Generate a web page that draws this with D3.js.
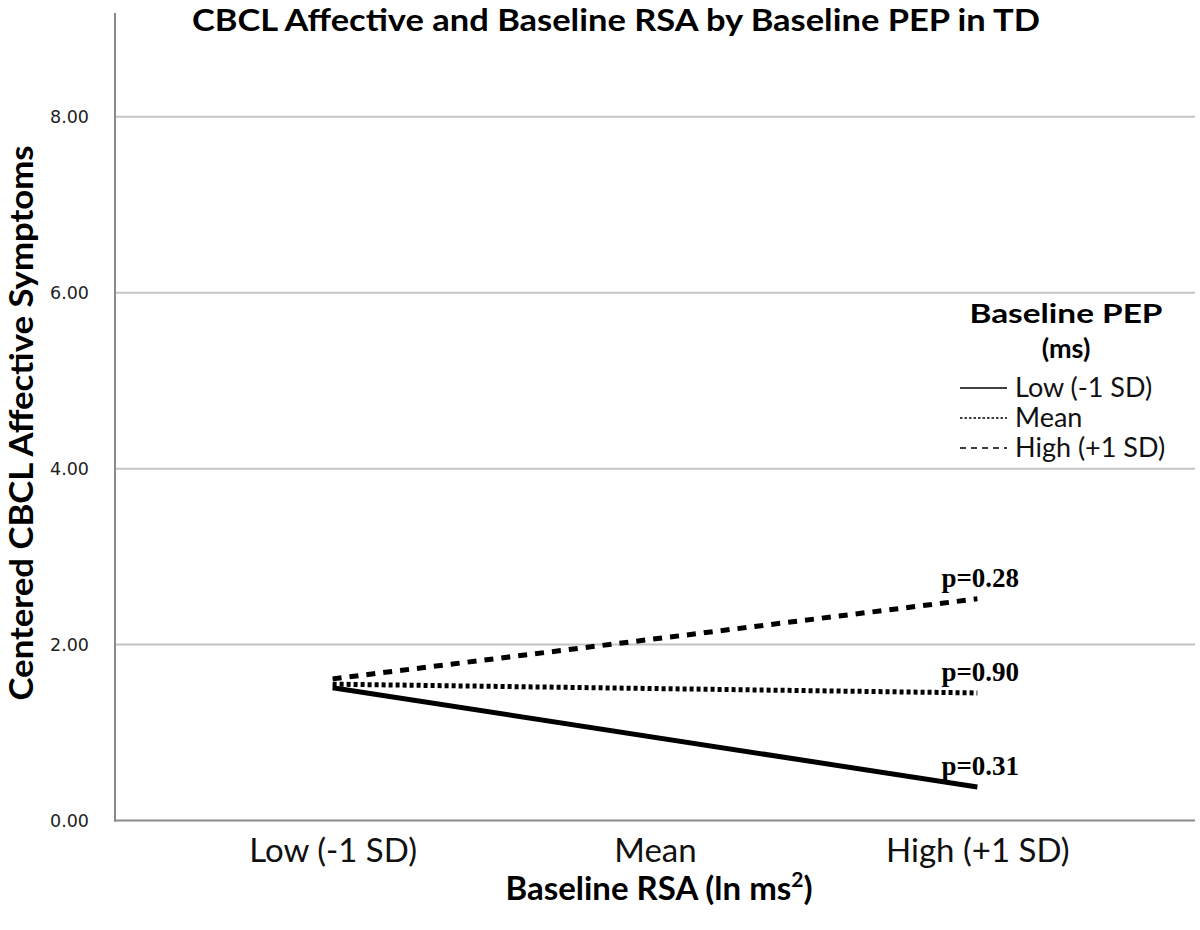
<!DOCTYPE html>
<html><head><meta charset="utf-8">
<script src="https://cdn.jsdelivr.net/npm/d3@7"></script>
<style>body{margin:0;background:#fff}svg{display:block}</style>
</head><body>
<svg id="chart" width="1200" height="930"></svg>
<script>
// ---- data ----
const categories = ["Low (-1 SD)", "Mean", "High (+1 SD)"];
const lineCategories = ["Low (-1 SD)", "High (+1 SD)"];
const seriesNames = ["Low (-1 SD)", "Mean", "High (+1 SD)"];
const lowPEP  = [1.51, 0.38];
const meanPEP = [1.55, 1.45];
const highPEP = [1.61, 2.52];
const pLabels = ["p=0.31", "p=0.90", "p=0.28"];
const yTicks = [0, 2, 4, 6, 8];
const yMax = 9.18;

const svg = d3.select("#chart");
const L = 115, R = 1195, T = 13, B = 820.5;

const x = d3.scalePoint().domain(categories).range([L, R]).padding(0.675);
const y = d3.scaleLinear().domain([0, yMax]).range([B, T]);

// gridlines
svg.append("g").selectAll("line").data(yTicks.filter(d => d > 0)).join("line")
  .attr("x1", L).attr("x2", R).attr("y1", d => y(d)).attr("y2", d => y(d))
  .attr("stroke", "#c4c4c4").attr("stroke-width", 2);

// axes
const yAxis = svg.append("g").attr("transform", `translate(${L},0)`)
  .call(d3.axisLeft(y).tickValues(yTicks).tickFormat(d3.format(".2f")).tickSize(0).tickPadding(26));
yAxis.select(".domain").remove();
yAxis.selectAll("text").attr("font-family", "DejaVu Sans").attr("font-size", 17.5).attr("fill", "#222");

const xAxis = svg.append("g").attr("transform", `translate(0,${B})`)
  .call(d3.axisBottom(x).tickSize(0).tickPadding(18));
xAxis.select(".domain").remove();
xAxis.selectAll("text").attr("font-family", "Lato").attr("font-size", 33).attr("fill", "#111");

svg.append("line").attr("x1", L).attr("x2", L).attr("y1", T).attr("y2", B + 1)
  .attr("stroke", "#8a8a8a").attr("stroke-width", 2);
svg.append("line").attr("x1", L - 1).attr("x2", R).attr("y1", B).attr("y2", B)
  .attr("stroke", "#8a8a8a").attr("stroke-width", 2);

// series
const series = [
  {name: seriesNames[0], vals: lowPEP,  dash: null,  legDash: null,  p: pLabels[0]},
  {name: seriesNames[1], vals: meanPEP, dash: "4,3", legDash: "2.5,2", p: pLabels[1]},
  {name: seriesNames[2], vals: highPEP, dash: "9,8", legDash: "6,5", p: pLabels[2]}
];
const line = d3.line().x((d, i) => x(lineCategories[i])).y(d => y(d));
svg.append("g").selectAll("path").data(series).join("path")
  .attr("d", d => line(d.vals)).attr("fill", "none").attr("stroke", "#000")
  .attr("stroke-width", 5).attr("stroke-dasharray", d => d.dash);

svg.append("g").selectAll("text").data(series).join("text")
  .attr("x", x(lineCategories[1]) - 36).attr("y", d => y(d.vals[1]) - 12)
  .attr("font-family", "Liberation Serif").attr("font-weight", "bold").attr("font-size", 27)
  .text(d => d.p);

// legend
const lg = svg.append("g");
lg.append("text").attr("x", 1066).attr("y", 323).attr("text-anchor", "middle")
  .attr("font-family", "Lato").attr("font-weight", "bold").attr("font-size", 27)
  .attr("textLength", 193).attr("lengthAdjust", "spacingAndGlyphs").text("Baseline PEP");
lg.append("text").attr("x", 1066).attr("y", 358).attr("text-anchor", "middle")
  .attr("font-family", "Lato").attr("font-weight", "bold").attr("font-size", 27).text("(ms)");
const items = lg.selectAll("g.item").data(series).join("g").attr("class", "item")
  .attr("transform", (d, i) => `translate(0,${397 + i * 30})`);
items.append("line").attr("x1", 960).attr("x2", 1007).attr("y1", -9).attr("y2", -9)
  .attr("stroke", "#000").attr("stroke-width", 1.5).attr("stroke-dasharray", d => d.legDash);
items.append("text").attr("x", 1015).attr("y", 0)
  .attr("font-family", "Lato").attr("font-size", 27).attr("fill", "#111").text(d => d.name);

// titles
svg.append("text").attr("x", 616).attr("y", 31).attr("text-anchor", "middle")
  .attr("font-family", "Lato").attr("font-weight", "bold").attr("font-size", 30)
  .attr("textLength", 848).attr("lengthAdjust", "spacingAndGlyphs")
  .text("CBCL Affective and Baseline RSA by Baseline PEP in TD");
svg.append("text").attr("transform", "translate(33,423) rotate(-90)").attr("text-anchor", "middle")
  .attr("font-family", "Lato").attr("font-weight", "bold").attr("font-size", 32)
  .attr("textLength", 555).attr("lengthAdjust", "spacingAndGlyphs")
  .text("Centered CBCL Affective Symptoms");
const xt = svg.append("text").attr("x", 659).attr("y", 900).attr("text-anchor", "middle")
  .attr("font-family", "Lato").attr("font-weight", "bold").attr("font-size", 33);
xt.append("tspan").text("Baseline RSA (ln ms");
xt.append("tspan").attr("font-size", 21).attr("dy", -13).text("2");
xt.append("tspan").attr("dy", 13).text(")");
</script>
</body></html>
